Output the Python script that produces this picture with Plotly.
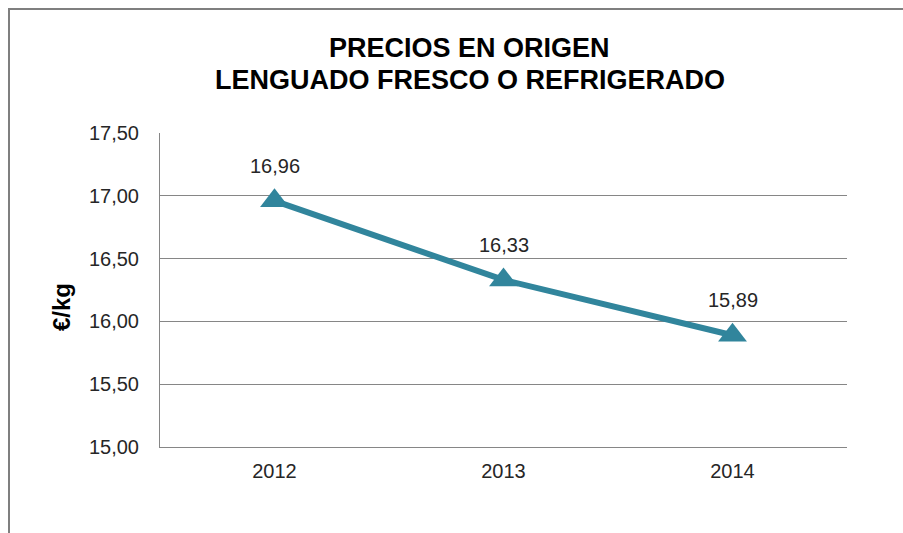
import plotly.graph_objects as go

years = ["2012", "2013", "2014"]
prices = [16.96, 16.33, 15.89]
y_ticks = [15.0, 15.5, 16.0, 16.5, 17.0, 17.5]
title_lines = ["PRECIOS EN ORIGEN", "LENGUADO FRESCO O REFRIGERADO"]
y_title = "€/kg"

LINE_COLOR = "#31859C"
GRID = "#868686"
FONT = "Arial, Liberation Sans, sans-serif"
TXT = "#262626"

fig = go.Figure()
fig.add_trace(go.Scatter(
    x=years, y=prices, mode="lines+markers",
    line=dict(color=LINE_COLOR, width=6),
    marker=dict(symbol="triangle-up", size=25, color=LINE_COLOR),
    hoverinfo="skip", showlegend=False,
))

for i, yv in enumerate(prices):
    fig.add_annotation(
        x=i, y=yv, text=f"{yv:.2f}".replace(".", ","), showarrow=False,
        yshift=35, font=dict(family=FONT, size=20, color=TXT),
        xanchor="center", yanchor="middle",
    )

fig.add_annotation(xref="paper", yref="paper", x=0.4512, y=1.2697, text=f"<b>{title_lines[0]}</b>",
                   showarrow=False, font=dict(family=FONT, size=27, color="#000000"),
                   xanchor="center", yanchor="middle")
fig.add_annotation(xref="paper", yref="paper", x=0.4512, y=1.1697, text=f"<b>{title_lines[1]}</b>",
                   showarrow=False, font=dict(family=FONT, size=27, color="#000000"),
                   xanchor="center", yanchor="middle")
fig.add_annotation(xref="paper", yref="paper", x=(61 - 160) / 687, y=(447 - 307) / 314,
                   text=f"<b>{y_title}</b>",
                   showarrow=False, textangle=-90, font=dict(family=FONT, size=24, color="#000000"),
                   xanchor="center", yanchor="middle")

# outer chart border (extends beyond the visible window at right/bottom)
fig.add_shape(type="rect", xref="paper", yref="paper",
              x0=(9 - 160) / 687, x1=(960 - 160) / 687,
              y0=(447 - 600) / 314, y1=(447 - 9) / 314,
              line=dict(color="#7F7F7F", width=2), fillcolor="rgba(0,0,0,0)", layer="below")

fig.update_layout(
    width=903, height=533,
    margin=dict(l=160, r=56, t=133, b=86),
    paper_bgcolor="white", plot_bgcolor="white",
    separators=",.",
    font=dict(family=FONT, size=20, color=TXT),
)
fig.update_xaxes(
    type="category", range=[-0.5, 2.5], showgrid=False,
    showline=True, linecolor=GRID, linewidth=1, ticks="", ticklabelstandoff=6,
    tickfont=dict(family=FONT, size=20, color=TXT), fixedrange=True,
)
fig.update_yaxes(
    range=[15.0, 17.5], tickvals=y_ticks, tickformat=".2f",
    showgrid=True, gridcolor=GRID, gridwidth=1,
    showline=True, linecolor=GRID, linewidth=1, ticks="", ticklabelstandoff=16,
    zeroline=False,
    tickfont=dict(family=FONT, size=20, color=TXT), fixedrange=True,
)

fig.write_html(
    "out.html",
    config={"displayModeBar": False},
    post_script="document.body.style.margin='0';document.body.style.overflow='hidden';",
)
